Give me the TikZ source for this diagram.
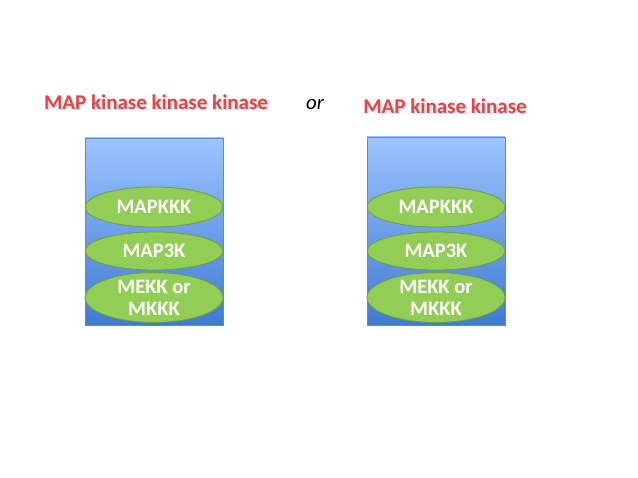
\documentclass[tikz,border=0pt]{standalone}
\usepackage{fontspec}
\setmainfont{Carlito}
\usetikzlibrary{shapes.geometric,shadows}
\definecolor{titlered}{HTML}{E0454A}
\definecolor{boxtop}{HTML}{9DC3FF}
\definecolor{boxbot}{HTML}{3F7BD3}
\definecolor{boxline}{HTML}{5B8AD0}
\definecolor{ellfill}{HTML}{92CE55}
\definecolor{ellline}{HTML}{6E9F3A}
\tikzset{
  title/.style={font=\fontsize{21}{23}\selectfont\bfseries, text=titlered, inner sep=0pt},
  panel/.style={draw=boxline, line width=0.6pt, top color=boxtop, bottom color=boxbot, minimum width=138pt, inner sep=0pt},
  oval/.style={ellipse, draw=ellline, line width=0.8pt, fill=ellfill, minimum width=138pt, inner sep=0pt,
    text=white, font=\fontsize{20.5}{22}\selectfont\bfseries, align=center},
}
\begin{document}
\begin{tikzpicture}[x=1pt,y=-1pt]
\useasboundingbox (0,0) rectangle (638,478);
% titles
\node[title, text=black!25, opacity=0.6] at (157.5,103.5) {MAP kinase kinase kinase};
\node[title] (t1) at (156,102) {MAP kinase kinase kinase};
\node[font=\fontsize{21}{23}\selectfont\itshape, inner sep=0pt] (or) at (315,104) {or};
\node[title, text=black!25, opacity=0.6] at (446.5,107.5) {MAP kinase kinase};
\node[title] (t2) at (445,106) {MAP kinase kinase};
% left panel
\node[panel, minimum height=187pt] (p1) at (154,231.5) {};
\node[oval, minimum height=40pt] (a1) at (154,207) {MAPKKK};
\node[oval, minimum height=38pt] (b1) at (154,251) {MAP3K};
\node[oval, minimum height=48pt] (c1) at (154,297.5) {MEKK or\\[0pt]MKKK};
% right panel
\node[panel, minimum height=188pt] (p2) at (436,231) {};
\node[oval, minimum height=40pt] (a2) at (436,207) {MAPKKK};
\node[oval, minimum height=38pt] (b2) at (436,251) {MAP3K};
\node[oval, minimum height=48pt] (c2) at (436,297.5) {MEKK or\\[0pt]MKKK};
\end{tikzpicture}
\end{document}
